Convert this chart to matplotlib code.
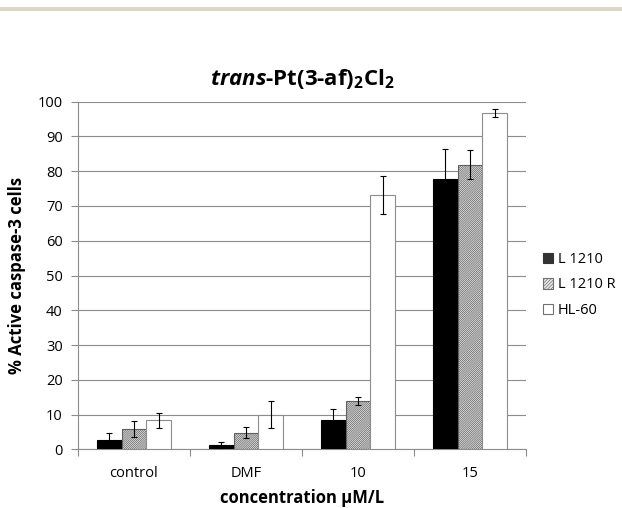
import matplotlib
matplotlib.use("Agg")
import matplotlib.pyplot as plt
from matplotlib.patches import Rectangle, Patch
import numpy as np

categories = ["control", "DMF", "10", "15"]
series_names = ["L 1210", "L 1210 R", "HL-60"]
l1210 = [2.7, 1.3, 8.4, 77.9]
l1210_err = [2.1, 0.9, 3.3, 8.6]
l1210r = [5.8, 4.8, 13.9, 81.9]
l1210r_err = [2.2, 1.6, 1.2, 4.2]
hl60 = [8.3, 10.0, 73.1, 96.8]
hl60_err = [2.2, 4.0, 5.5, 1.2]
y_ticks = [0, 10, 20, 30, 40, 50, 60, 70, 80, 90, 100]

plt.rcParams["font.family"] = ["Open Sans", "DejaVu Sans"]
plt.rcParams["mathtext.fontset"] = "custom"
plt.rcParams["mathtext.rm"] = "Open Sans:bold"
plt.rcParams["mathtext.bf"] = "Open Sans:bold"
plt.rcParams["mathtext.it"] = "Open Sans:bold:italic"
plt.rcParams["hatch.linewidth"] = 0.5

fig = plt.figure(figsize=(6.22, 5.08), dpi=100)
# beige strip at the top of the page
fig.patches.append(Rectangle((0, 1 - 11 / 508), 1, 4 / 508, transform=fig.transFigure,
                             facecolor="#ddd8c6", edgecolor="none"))

ax = fig.add_axes([78 / 622, 1 - 449.3 / 508, 448 / 622, 347.6 / 508])

x = np.arange(len(categories))
w = 0.223
styles = [
    dict(color="black", edgecolor="black"),
    dict(color="#ebebeb", edgecolor="#606060", hatch="/" * 16),
    dict(color="white", edgecolor="#8c8c8c"),
]
values = [l1210, l1210r, hl60]
errors = [l1210_err, l1210r_err, hl60_err]
handles = []
for i, (vals, errs, st) in enumerate(zip(values, errors, styles)):
    ax.bar(x + (i - 1) * w, vals, w, linewidth=0.8, zorder=3, **st)
    ax.errorbar(x + (i - 1) * w, vals, yerr=errs, fmt="none", ecolor="black",
                elinewidth=0.8, capsize=2.5, capthick=0.8, zorder=4)
    face = "#333333" if i == 0 else st["color"]
    handles.append(Patch(facecolor=face, edgecolor="#707070" if i else "#333333",
                         hatch="/" * 10 if i == 1 else None, linewidth=0.8,
                         label=series_names[i]))

ax.set_xlim(-0.5, 3.5)
ax.set_ylim(0, 100)
ax.set_yticks(y_ticks)
ax.yaxis.grid(True, color="#8c8c8c", linewidth=0.8, zorder=0)
ax.set_axisbelow(True)
for s in ["top", "right"]:
    ax.spines[s].set_visible(False)
for s in ["left", "bottom"]:
    ax.spines[s].set_color("#8c8c8c")
    ax.spines[s].set_linewidth(0.8)

ax.set_xticks(x)
ax.set_xticklabels(categories)
ax.set_xticks(np.arange(-0.5, 4, 1), minor=True)
ax.tick_params(axis="x", which="major", length=0, pad=12, labelsize=10.5)
ax.tick_params(axis="x", which="minor", length=5, color="#8c8c8c", width=0.8)
ax.tick_params(axis="y", length=5, color="#8c8c8c", width=0.8, labelsize=10.5, pad=6)

ax.set_xlabel("concentration μM/L", fontsize=12, fontweight="bold", labelpad=6)
ax.set_ylabel("% Active caspase-3 cells", fontsize=12, fontweight="bold", labelpad=8)
ax.set_title(r"$\mathit{trans}$-Pt(3-af)$_{2}$Cl$_{2}$", fontsize=16, fontweight="bold", pad=12)

fig.legend(handles=handles, loc="center left", bbox_to_anchor=(530 / 622, 1 - 285 / 508),
           frameon=False, fontsize=10.5, handlelength=0.7, handleheight=0.7,
           handletextpad=0.3, labelspacing=0.7)

fig.savefig("out.png", dpi=100)
